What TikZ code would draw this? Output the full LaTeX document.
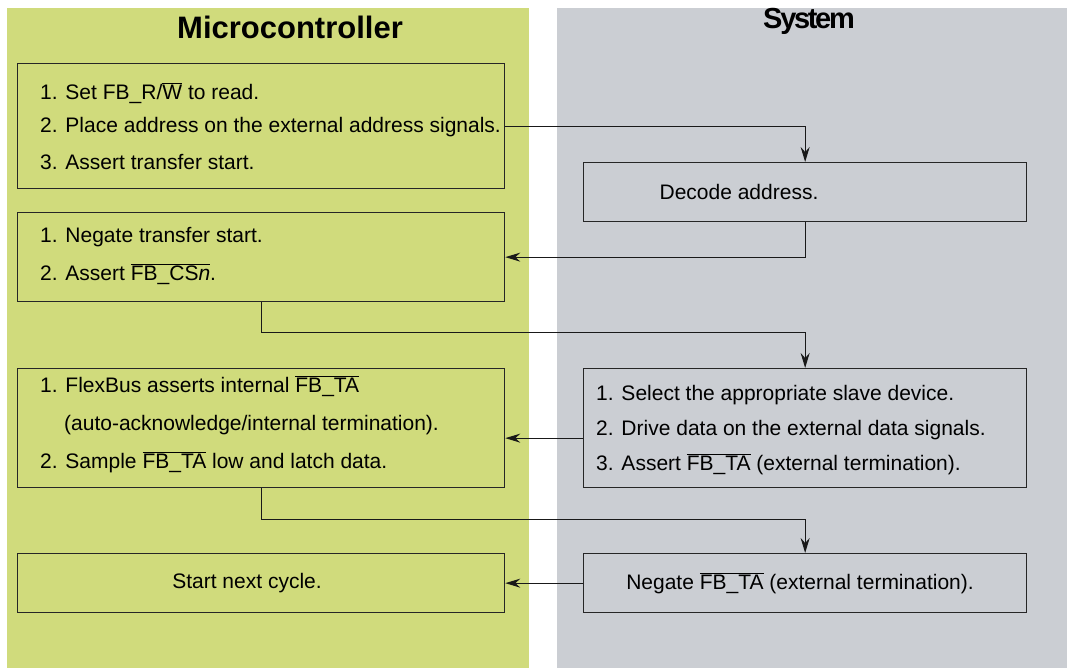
\documentclass[tikz,border=0pt]{standalone}
\usepackage{fontspec}
\setmainfont{Liberation Sans}
\usetikzlibrary{arrows.meta,calc,positioning}
\definecolor{mcugreen}{RGB}{208,219,124}
\definecolor{sysgray}{RGB}{203,206,211}
\newcommand{\ovl}[1]{$\overline{\mbox{#1}}$}

\begin{document}
\begin{tikzpicture}[x=1pt,y=-1pt,>={Stealth[length=15pt,width=9pt,inset=5pt]},
  font=\fontsize{21}{35}\selectfont,
  stepbox/.style={draw=black!85,line width=1.3pt,anchor=north west,inner sep=0pt},
  txt/.style={align=left,inner sep=0pt},
  flow/.style={->,line width=1.1pt,black!90},
  head/.style={font=\bfseries\fontsize{31}{31}\selectfont}]
\useasboundingbox (0,0) rectangle (1067,668);
% two columns
\fill[mcugreen] (7,8) rectangle (529,668);
\fill[sysgray] (557,8) rectangle (1067,668);
\node[head] (mcu) at (290,27) {Microcontroller};
\node[font=\bfseries\fontsize{29}{29}\selectfont\addfontfeature{LetterSpace=-8}] (sys) at (809,21) {System};
% microcontroller side
\node[stepbox,minimum width=487pt,minimum height=125pt] (set) at (17,63) {};
\node[stepbox,minimum width=487pt,minimum height=89pt] (neg) at (17,212) {};
\node[stepbox,minimum width=487pt,minimum height=119pt] (ta) at (17,368) {};
\node[stepbox,minimum width=487pt,minimum height=59pt] (next) at (17,553) {};
\node[txt,anchor=west] (settxt) at (40,126) {1. Set FB\_R/\ovl{W} to read.\\[-2pt]
  2. Place address on the external address signals.\\[2pt]
  3. Assert transfer start.};
\node[txt,anchor=west] (negtxt) at (40,256) {1. Negate transfer start.\\[3pt]
  2. Assert \ovl{FB\_CS\textit{n}}.};
\node[txt,anchor=west] (tatxt) at (40,424) {1. FlexBus asserts internal \ovl{FB\_TA}\\[3pt]
  \hspace*{24pt}(auto-acknowledge/internal termination).\\[3pt]
  2. Sample \ovl{FB\_TA} low and latch data.};
\node[txt] (nexttxt) at (247,583) {Start next cycle.};
% system side
\node[stepbox,minimum width=443pt,minimum height=59pt] (dec) at (583,162) {};
\node[stepbox,minimum width=443pt,minimum height=119pt] (sel) at (583,368) {};
\node[stepbox,minimum width=443pt,minimum height=59pt] (nta) at (583,553) {};
\node[txt] (dectxt) at (739,192) {Decode address.};
\node[txt,anchor=west] (seltxt) at (596,430) {1. Select the appropriate slave device.\\
  2. Drive data on the external data signals.\\
  3. Assert \ovl{FB\_TA} (external termination).};
\node[txt] (ntatxt) at (800,583) {Negate \ovl{FB\_TA} (external termination).};
% handshakes
\draw[flow] (set.east) -| (dec.north);
\draw[flow] (dec.south) |- (neg.east);
\draw[flow] (neg.south) -- ++(0,30) -| (sel.north);
\draw[flow] ([yshift=-10pt]sel.west) -- ([yshift=-10pt]ta.east);
\draw[flow] (ta.south) -- ++(0,31) -| (nta.north);
\draw[flow] (nta.west) -- (next.east);
\end{tikzpicture}
\end{document}
